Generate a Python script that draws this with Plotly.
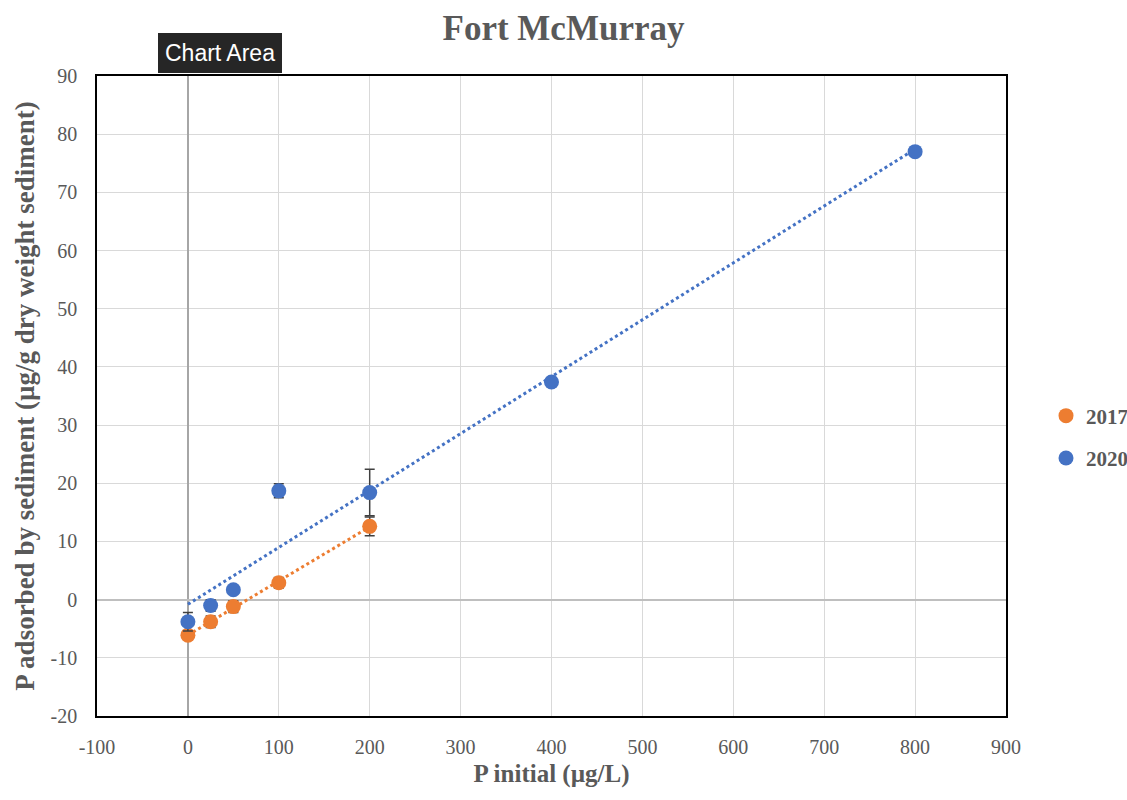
import numpy as np
import plotly.graph_objects as go

# Data
x_2017 = [0, 25, 50, 100, 200]
y_2017 = [-6.1, -3.8, -1.2, 2.9, 12.6]
err_2017 = [0.7, 1.0, 1.0, 0.9, 1.6]

x_2020 = [0, 25, 50, 100, 200, 400, 800]
y_2020 = [-3.8, -1.0, 1.7, 18.7, 18.4, 37.4, 77.0]
err_2020 = [1.6, 1.0, 0.5, 1.2, 4.0, 0.4, 0.5]

series_names = ["2017", "2020"]
colors = ["#ED7D31", "#4472C4"]

x_ticks = list(range(-100, 1000, 100))
y_ticks = list(range(-20, 100, 10))

serif = "Liberation Serif, Times New Roman, serif"
gray = "#595959"

fig = go.Figure()

series = [
    (series_names[0], x_2017, y_2017, err_2017, colors[0]),
    (series_names[1], x_2020, y_2020, err_2020, colors[1]),
]

for name, xs, ys, es, col in series:
    slope, intercept = np.polyfit(xs, ys, 1)
    fx = [min(xs), max(xs)]
    fy = [slope * v + intercept for v in fx]
    fig.add_trace(go.Scatter(
        x=fx, y=fy, mode="lines", showlegend=False, hoverinfo="skip",
        line=dict(color=col, width=3, dash="dot"),
    ))

for name, xs, ys, es, col in series:
    fig.add_trace(go.Scatter(
        x=xs, y=ys, mode="markers", name=name, legendgroup=name,
        marker=dict(color=col, size=15),
        error_y=dict(type="data", array=es, visible=True, color="#404040",
                     thickness=1.5, width=5),
    ))

fig.update_layout(
    width=1127, height=800,
    paper_bgcolor="white", plot_bgcolor="white",
    margin=dict(l=97, r=121, t=76, b=84, autoexpand=False),
    title=dict(text="<b>Fort McMurray</b>", x=0.5, xanchor="center",
               yref="container", y=1 - 28 / 800, yanchor="middle",
               font=dict(family=serif, size=35, color=gray)),
    font=dict(family=serif, color=gray),
    legend=dict(x=(1046 - 97) / 909, y=(716 - 437) / 640, xanchor="left", yanchor="middle",
                font=dict(family=serif, size=21, color=gray, weight="bold"),
                traceorder="grouped", tracegroupgap=12,
                itemwidth=30, bgcolor="rgba(0,0,0,0)"),
    showlegend=True,
)

fig.update_xaxes(
    range=[-100, 900], tickvals=x_ticks, ticktext=[str(v) for v in x_ticks],
    showgrid=True, gridcolor="#d9d9d9", gridwidth=1,
    zeroline=True, zerolinecolor="#a6a6a6", zerolinewidth=1.5,
    showline=True, linecolor="black", linewidth=1.5, mirror=True,
    ticks="outside", ticklen=12, tickcolor="rgba(0,0,0,0)",
    tickfont=dict(family=serif, size=20, color=gray),
    title=dict(text="<b>P initial (µg/L)</b>",
               font=dict(family=serif, size=25, color=gray), standoff=8),
)
fig.update_yaxes(
    range=[-20, 90], tickvals=y_ticks, ticktext=[str(v) for v in y_ticks],
    showgrid=True, gridcolor="#d9d9d9", gridwidth=1,
    zeroline=True, zerolinecolor="#bfbfbf", zerolinewidth=1.5,
    showline=True, linecolor="black", linewidth=1.5, mirror=True,
    ticks="outside", ticklen=14, tickcolor="rgba(0,0,0,0)",
    tickfont=dict(family=serif, size=20, color=gray),
    title=dict(text="<b>P adsorbed by sediment (µg/g dry weight sediment)</b>",
               font=dict(family=serif, size=27, color=gray), standoff=8),
)

# "Chart Area" tooltip overlay
fig.add_annotation(
    text="Chart Area", xref="paper", yref="paper",
    x=(220 - 97) / 909, y=(716 - 53) / 640, xanchor="center", yanchor="middle",
    showarrow=False, font=dict(family="Helvetica, Arial, sans-serif", size=23, color="white"),
    bgcolor="#262626", bordercolor="#262626", borderpad=6,
)

fig.write_html("out.html")
